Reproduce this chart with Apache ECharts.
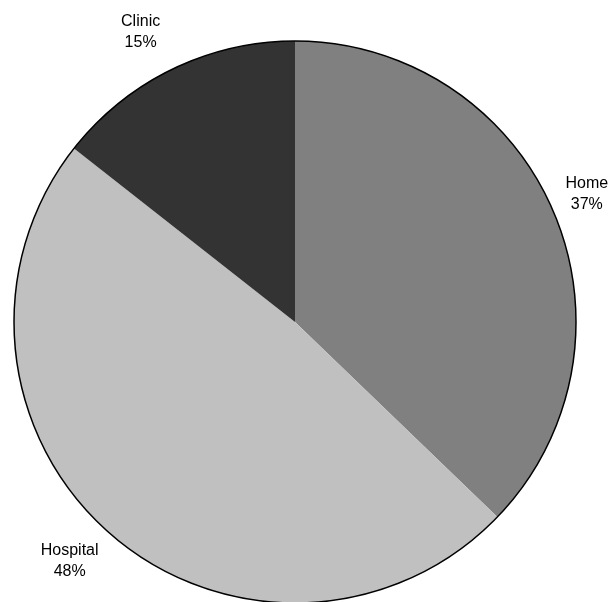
<!DOCTYPE html>
<html>
<head>
<meta charset="utf-8">
<script src="https://cdn.jsdelivr.net/npm/echarts@6/dist/echarts.min.js"></script>
<style>html,body{margin:0;padding:0;background:#fff;}#c{width:615px;height:602px;}</style>
</head>
<body>
<div id="c"></div>
<script>
const categories = ['Home', 'Hospital', 'Clinic'];
const values = [37.2, 48.4, 14.4];
const percentLabels = ['37%', '48%', '15%'];
const colors = ['#808080', '#c0c0c0', '#333333'];
const labelOffsets = [[-10, 0], [-10, -8], [-11, 5]];

const chart = echarts.init(document.getElementById('c'), null, {renderer: 'canvas'});
const data = categories.map((c, i) => ({name: c, value: values[i], itemStyle: {color: colors[i]}}));
chart.setOption({
  animation: false,
  backgroundColor: '#ffffff',
  series: [
    {
      type: 'pie',
      center: [295, 322],
      radius: 281,
      startAngle: 90,
      clockwise: true,
      avoidLabelOverlap: false,
      data: data,
      itemStyle: {borderWidth: 0},
      label: {
        show: true,
        position: 'outside',
        formatter: p => p.name + '\n' + percentLabels[p.dataIndex],
        fontFamily: 'Liberation Sans, Arial, sans-serif',
        fontSize: 16,
        lineHeight: 21,
        color: '#000',
        align: 'center',
        distanceToLabelLine: 0
      },
      labelLine: {show: false, length: 47, length2: 0},
      labelLayout: function (p) {
        const o = labelOffsets[p.dataIndex];
        return {align: 'center', verticalAlign: 'middle', dx: o[0], dy: o[1]};
      },
      emphasis: {disabled: true},
      silent: true
    },
    {
      type: 'pie',
      center: [295, 322],
      radius: 281,
      data: [{value: 1, name: 'outline'}],
      itemStyle: {color: 'rgba(0,0,0,0)', borderColor: '#000', borderWidth: 1.5},
      label: {show: false},
      labelLine: {show: false},
      emphasis: {disabled: true},
      silent: true,
      z: 3
    }
  ]
});
</script>
</body>
</html>
